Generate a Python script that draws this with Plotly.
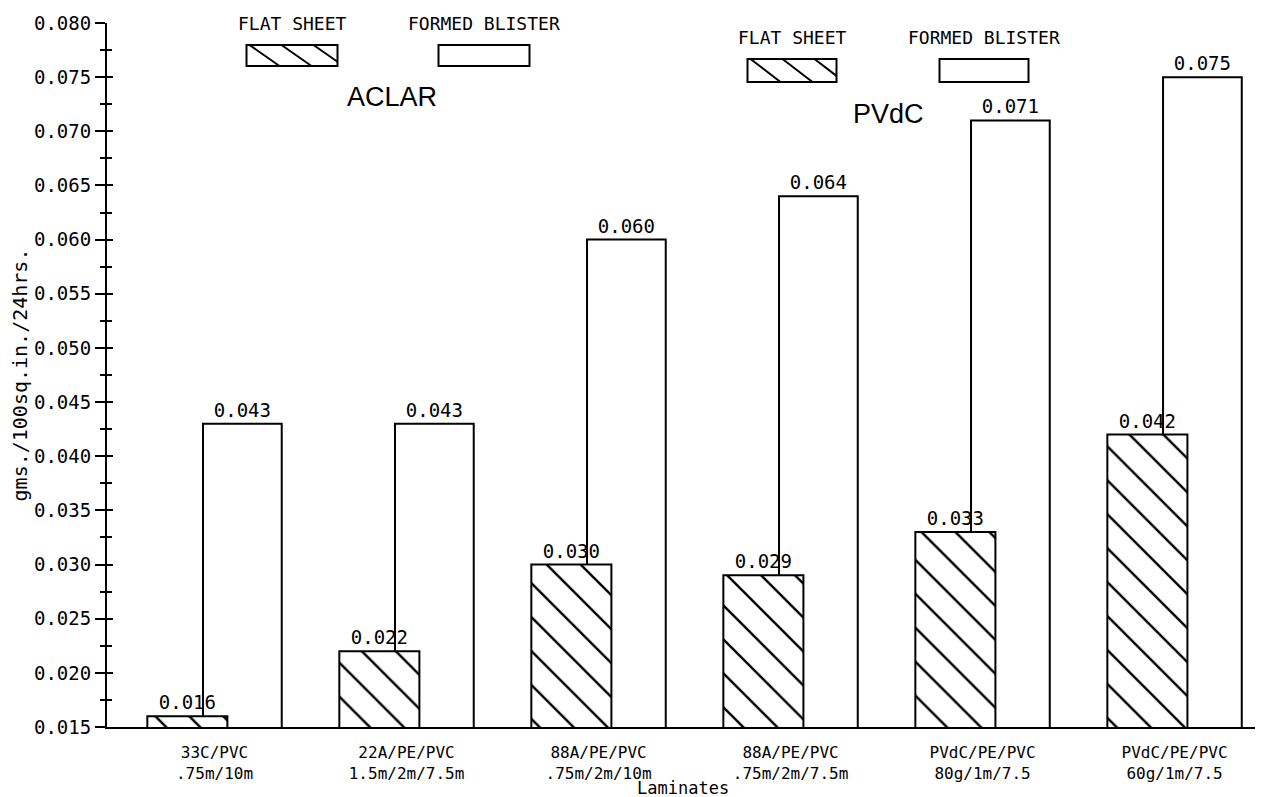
import plotly.graph_objects as go

# ---- data ----
categories = [
    "33C/PVC<br>.75m/10m",
    "22A/PE/PVC<br>1.5m/2m/7.5m",
    "88A/PE/PVC<br>.75m/2m/10m",
    "88A/PE/PVC<br>.75m/2m/7.5m",
    "PVdC/PE/PVC<br>80g/1m/7.5",
    "PVdC/PE/PVC<br>60g/1m/7.5",
]
flat_sheet = [0.016, 0.022, 0.030, 0.029, 0.033, 0.042]
formed_blister = [0.043, 0.043, 0.060, 0.064, 0.071, 0.075]
y_ticks = [0.015, 0.020, 0.025, 0.030, 0.035, 0.040, 0.045, 0.050,
           0.055, 0.060, 0.065, 0.070, 0.075, 0.080]

# ---- layout geometry (screen pixels; page body has an 8px margin) ----
OFF = 8
SW, SH = 1263, 797
W, H = SW - OFF, SH - OFF
PLOT_L, PLOT_R, PLOT_T, PLOT_B = 107, 1260, 23, 727   # screen coords of plot area
ML, MR = PLOT_L - OFF, W - (PLOT_R - OFF)
MT, MB = PLOT_T - OFF, H - (PLOT_B - OFF)
PW, PH = PLOT_R - PLOT_L, PLOT_B - PLOT_T

def px(x):
    return (x - PLOT_L) / PW

def py(y):
    return (PLOT_B - y) / PH

MONO = "DejaVu Sans Mono"
SANS = "Liberation Sans"
pos = list(range(len(categories)))

fig = go.Figure()

fig.add_trace(go.Bar(
    x=pos, y=formed_blister, name="FORMED BLISTER",
    width=0.41, offset=-0.06,
    marker=dict(color="white", line=dict(color="black", width=2)),
    text=[f"{v:.3f}" for v in formed_blister], textposition="outside",
    textfont=dict(family=MONO, size=19, color="black"),
    cliponaxis=False, showlegend=False,
))
fig.add_trace(go.Bar(
    x=pos, y=flat_sheet, name="FLAT SHEET",
    width=0.417, offset=-0.35,
    marker=dict(color="white", line=dict(color="black", width=2),
                pattern=dict(shape="\\", size=24, solidity=0.1,
                             fgcolor="black", fgopacity=1, bgcolor="white",
                             fillmode="overlay")),
    text=[f"{v:.3f}" for v in flat_sheet], textposition="outside",
    textfont=dict(family=MONO, size=19, color="black"),
    cliponaxis=False, showlegend=False,
))

shapes = []
annotations = []

def legend_group(cx_flat, cx_formed, y_text, y0, y1, w, label, lx, ly):
    for cx, txt in ((cx_flat, "FLAT SHEET"), (cx_formed, "FORMED BLISTER")):
        annotations.append(dict(x=px(cx), y=py(y_text), xref="paper", yref="paper",
                                text=txt, showarrow=False, xanchor="center", yanchor="middle",
                                font=dict(family=MONO, size=18, color="black")))
        shapes.append(dict(type="rect", xref="paper", yref="paper",
                           x0=px(cx - w / 2), x1=px(cx + w / 2), y0=py(y1), y1=py(y0),
                           line=dict(color="black", width=2), fillcolor="white"))
    # hatch in the flat swatch
    x0 = cx_flat - w / 2
    hh = y1 - y0
    for k in range(3):
        a = x0 + 3 + k * 32
        b = min(a + 30, cx_flat + w / 2)
        yb = y0 + (b - a) / 30 * hh
        shapes.append(dict(type="line", xref="paper", yref="paper",
                           x0=px(a), y0=py(y0), x1=px(b), y1=py(yb),
                           line=dict(color="black", width=2)))
    annotations.append(dict(x=px(lx), y=py(ly), xref="paper", yref="paper",
                            text=label, showarrow=False, xanchor="center", yanchor="middle",
                            font=dict(family=SANS, size=27, color="black")))

legend_group(292, 484, 23, 45, 66, 91, "ACLAR", 392, 97)
legend_group(792, 984, 37, 59, 82, 89, "PVdC", 888, 114)

annotations.append(dict(x=px(683), y=py(788), xref="paper", yref="paper", text="Laminates",
                        showarrow=False, xanchor="center", yanchor="middle",
                        font=dict(family=MONO, size=17, color="black")))

fig.update_layout(
    width=W, height=H,
    margin=dict(l=ML, r=MR, t=MT, b=MB, pad=0),
    paper_bgcolor="white", plot_bgcolor="white",
    barmode="overlay", showlegend=False,
    shapes=shapes, annotations=annotations,
    xaxis=dict(range=[-0.56, 5.445], tickmode="array", tickvals=pos, ticktext=categories,
               showline=True, linecolor="black", linewidth=2, ticks="", showgrid=False,
               zeroline=False, ticklabelstandoff=10,
               tickfont=dict(family=MONO, size=16, color="black")),
    yaxis=dict(range=[0.015, 0.080], tickmode="array", tickvals=y_ticks, tickformat=".3f",
               showline=True, linecolor="black", linewidth=2, ticks="outside", ticklen=10,
               tickwidth=2, tickcolor="black", showgrid=False, zeroline=False,
               minor=dict(ticks="outside", dtick=0.0025, tick0=0.015, ticklen=5,
                          tickwidth=2, tickcolor="black"),
               tickfont=dict(family=MONO, size=19, color="black"),
               title=dict(text="gms./100sq.in./24hrs.", standoff=6,
                          font=dict(family=MONO, size=20, color="black"))),
    yaxis2=dict(range=[0.015, 0.080], overlaying="y", side="left", anchor="x",
                tickmode="array", tickvals=y_ticks, showticklabels=False,
                ticks="inside", ticklen=6, tickwidth=2, tickcolor="black",
                showgrid=False, zeroline=False, showline=False,
                minor=dict(ticks="inside", dtick=0.0025, tick0=0.015, ticklen=5,
                           tickwidth=2, tickcolor="black")),
)

# invisible trace to activate the second y axis
fig.add_trace(go.Scatter(x=[pos[0]], y=[flat_sheet[0]], yaxis="y2", mode="markers",
                         marker=dict(opacity=0), hoverinfo="skip", showlegend=False))

fig.write_html("out.html")
